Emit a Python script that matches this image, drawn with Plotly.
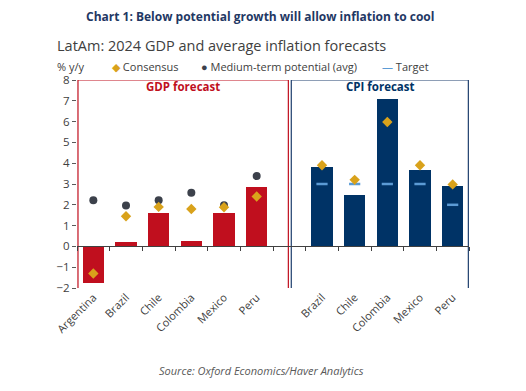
import plotly.graph_objects as go

gdp_countries = ["Argentina", "Brazil", "Chile", "Colombia", "Mexico", "Peru"]
gdp_forecast = [-1.75, 0.23, 1.62, 0.26, 1.62, 2.85]
gdp_consensus = [-1.3, 1.45, 1.9, 1.8, 1.88, 2.4]
gdp_potential = [2.22, 1.97, 2.22, 2.58, 1.98, 3.38]

cpi_countries = ["Brazil", "Chile", "Colombia", "Mexico", "Peru"]
cpi_forecast = [3.82, 2.48, 7.08, 3.68, 2.92]
cpi_consensus = [3.9, 3.2, 5.98, 3.9, 2.98]
cpi_target = [3.0, 3.0, 3.0, 3.0, 2.0]

y_ticks = list(range(-2, 9))

gdp_x = list(range(len(gdp_countries)))
cpi_x = [len(gdp_countries) + 1 + i for i in range(len(cpi_countries))]
all_x = gdp_x + cpi_x
all_labels = gdp_countries + cpi_countries
n_slots = len(gdp_countries) + 1 + len(cpi_countries)

RED = "#C00F1E"
NAVY = "#003366"
GOLD = "#D9A21B"
GREY = "#3C414B"
LBLUE = "#5B9BD5"
FONT = "Open Sans"

# page is offset by the 8px body margin; keep figure inside the window
OFF = 8
W, H = 526 - 2 * OFF, 391 - 2 * OFF
ML = 77 - OFF
MT = 80 - OFF
MR = W - (469.5 - OFF)
MB = H - (288 - OFF)

fig = go.Figure()
fig.add_trace(go.Bar(x=gdp_x, y=gdp_forecast, marker_color=RED, width=0.66, name="GDP forecast",
                     marker_line_width=0))
fig.add_trace(go.Bar(x=cpi_x, y=cpi_forecast, marker_color=NAVY, width=0.66, name="CPI forecast",
                     marker_line_width=0))
fig.add_trace(go.Scatter(x=gdp_x, y=gdp_potential, mode="markers",
                         marker=dict(symbol="circle", size=8, color=GREY), name="Medium-term potential (avg)"))
fig.add_trace(go.Scatter(x=cpi_x, y=cpi_target, mode="markers",
                         marker=dict(symbol="line-ew", size=8, line=dict(color=LBLUE, width=2.5)), name="Target"))
fig.add_trace(go.Scatter(x=gdp_x + cpi_x, y=gdp_consensus + cpi_consensus, mode="markers",
                         marker=dict(symbol="diamond", size=8, color=GOLD), name="Consensus"))
# axis line at zero with boundary ticks
fig.add_trace(go.Scatter(x=[-0.5, n_slots - 0.5], y=[0, 0], xaxis="x2", mode="lines",
                         line=dict(color="rgba(0,0,0,0)"), hoverinfo="skip", showlegend=False))

ymin, ymax = -2, 8
ph = H - MT - MB
pw = W - ML - MR
fig.update_layout(
    width=W, height=H,
    margin=dict(l=ML, r=MR, t=MT, b=MB),
    plot_bgcolor="white", paper_bgcolor="white",
    showlegend=False,
    font=dict(family=FONT, color="#404040"),
    bargap=0,
    xaxis=dict(range=[-0.5, n_slots - 0.5], tickvals=all_x, ticktext=all_labels, tickangle=-45,
               showline=False, showgrid=False, zeroline=False, ticks="",
               tickfont=dict(size=11, color="#404040")),
    xaxis2=dict(range=[-0.5, n_slots - 0.5], overlaying="x", anchor="free",
                position=(0 - ymin) / (ymax - ymin), side="bottom",
                tickvals=[i - 0.5 for i in range(n_slots + 1)], showticklabels=False,
                ticks="outside", ticklen=4, tickcolor="#404040", showline=True,
                linecolor="#404040", linewidth=1, showgrid=False, zeroline=False),
    yaxis=dict(range=[ymin, ymax], tickvals=y_ticks, ticks="outside", ticklen=4, tickcolor="#595959",
               showgrid=False, zeroline=False, showline=False,
               tickfont=dict(size=11.5, color="#404040")),
)

# frames around panels
fig.add_shape(type="rect", xref="x", yref="y", x0=-0.47, x1=5.97,
              y0=-2.08, y1=8, line=dict(color=RED, width=1.2), layer="below")
fig.add_shape(type="rect", xref="x", yref="y", x0=6.06, x1=11.48,
              y0=-2.08, y1=8, line=dict(color="#1F3F6E", width=1.2), layer="below")

fig.add_annotation(x=2.75, y=7.7, xref="x", yref="y",
                   text="<b>GDP forecast</b>", showarrow=False, font=dict(size=11.5, color=RED))
fig.add_annotation(x=8.8, y=7.7, xref="x", yref="y",
                   text="<b>CPI forecast</b>", showarrow=False, font=dict(size=11.5, color=NAVY))

# convert page pixel positions to paper coords
def px(x):
    return (x - OFF - ML) / pw
def py(y):
    return (H - MB - (y - OFF)) / ph

fig.add_annotation(x=px(260), y=py(16), xref="paper", yref="paper", yanchor="middle",
                   xanchor="center", showarrow=False,
                   text="<b>Chart 1: Below potential growth will allow inflation to cool</b>",
                   font=dict(size=12, color="#1F3864"))
fig.add_annotation(x=px(55), y=py(46), xref="paper", yref="paper", xanchor="left", yanchor="middle",
                   showarrow=False, text="LatAm: 2024 GDP and average inflation forecasts",
                   font=dict(size=14.5, color="#404040"))
fig.add_annotation(x=px(55), y=py(66), xref="paper", yref="paper", xanchor="left", yanchor="middle",
                   showarrow=False, text="% y/y", font=dict(size=11, color="#404040"))
fig.add_annotation(x=px(110), y=py(66), xref="paper", yref="paper", xanchor="left", yanchor="middle",
                   showarrow=False, text=f"<span style='color:{GOLD}'>◆</span> Consensus",
                   font=dict(size=11, color="#404040"))
fig.add_annotation(x=px(199), y=py(66), xref="paper", yref="paper", xanchor="left", yanchor="middle",
                   showarrow=False, text=f"<span style='color:{GREY}'>●</span> Medium-term potential (avg)",
                   font=dict(size=11, color="#404040"))
fig.add_annotation(x=px(380), y=py(66), xref="paper", yref="paper", xanchor="left", yanchor="middle",
                   showarrow=False, text=f"<span style='color:{LBLUE}'>—</span> Target",
                   font=dict(size=11, color="#404040"))
fig.add_annotation(x=px(262), y=py(370), xref="paper", yref="paper", xanchor="center", yanchor="middle",
                   showarrow=False, text="<i>Source: Oxford Economics/Haver Analytics</i>",
                   font=dict(size=11, color="#595959"))

fig.write_html("out.html")
